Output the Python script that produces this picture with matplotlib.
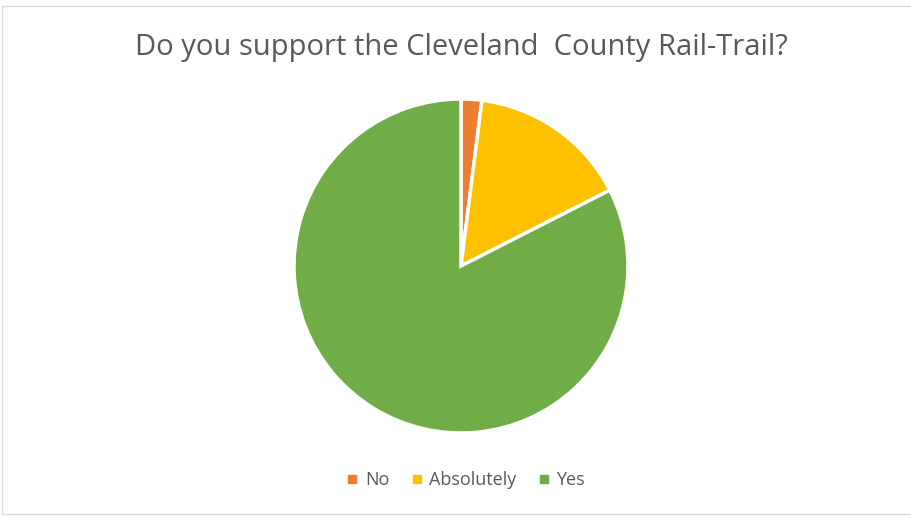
import matplotlib
matplotlib.use("Agg")
import matplotlib.pyplot as plt
from matplotlib.lines import Line2D
from matplotlib.patches import Rectangle

categories = ["No", "Absolutely", "Yes"]
values = [2.0, 15.5, 82.5]
colors = ["#ED7D31", "#FFC000", "#70AD47"]

plt.rcParams['font.family'] = ['Open Sans', 'DejaVu Sans']

fig = plt.figure(figsize=(9.11, 5.18), dpi=100)
fig.patch.set_facecolor("white")

# chart border
fig.add_artist(Rectangle((2/911, 4/518), 1.0, 1 - 10/518, transform=fig.transFigure,
                         fill=False, edgecolor="#D9D9D9", linewidth=1))

cx, cy, r = 461, 266, 167
ax = fig.add_axes([(cx - r)/911, (518 - cy - r)/518, 2*r/911, 2*r/518])
ax.pie(values, colors=colors, startangle=90, counterclock=False,
       wedgeprops=dict(edgecolor="white", linewidth=2.5))
ax.set_xlim(-1, 1)
ax.set_ylim(-1, 1)
ax.set_aspect("equal")
ax.axis("off")

fig.text(461/911, 1 - 47/518, "Do you support the Cleveland  County Rail-Trail?",
         ha="center", va="center", fontsize=21, color="#595959")

handles = [Line2D([0], [0], marker="s", linestyle="none", markersize=6,
                  markerfacecolor=c, markeredgecolor=c) for c in colors]
fig.legend(handles, categories, loc="center", bbox_to_anchor=(465/911, 1 - 480/518),
           ncol=3, frameon=False, fontsize=13, labelcolor="#595959",
           handletextpad=0.3, columnspacing=1.1, handlelength=0.8)

fig.savefig("out.png", dpi=100)
